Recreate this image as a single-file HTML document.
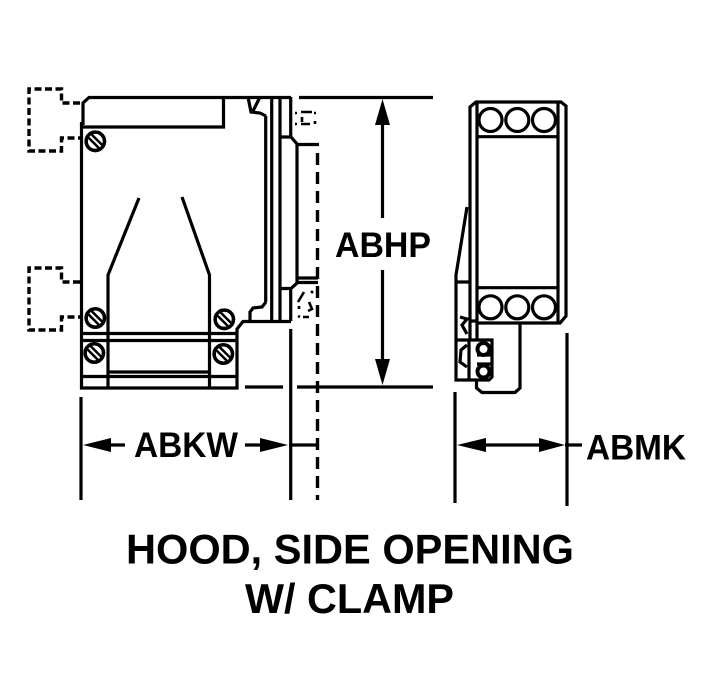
<!DOCTYPE html>
<html><head><meta charset="utf-8"><style>html,body{margin:0;padding:0;background:#fff}svg{display:block}text{font-family:"Liberation Sans",sans-serif;font-weight:bold;fill:#000}</style></head><body>
<svg width="708" height="688" viewBox="0 0 708 688" xmlns="http://www.w3.org/2000/svg">
<defs>
<g id="s"><circle r="9.2" fill="#fff" stroke="#000" stroke-width="3.4"/><line x1="-6.5" y1="-6.5" x2="6.5" y2="6.5" stroke="#000" stroke-width="7"/><line x1="-8" y1="-8" x2="8" y2="8" stroke="#fff" stroke-width="2"/><circle r="9.2" fill="none" stroke="#000" stroke-width="3.4"/></g>
</defs>
<g fill="none" stroke="#000" stroke-width="3.2">
<!-- left body -->
<path d="M81.5 122V388H237V333"/>
<path d="M83 125V103L89 97.5H291"/>
<path d="M82 127H223.5V97"/>
<path d="M81 333.5H237M81 340.5H237M81 376.5H237M108 372H209"/>
<path d="M108 388V275L139 198M209.5 388V275L182 197"/>
<path d="M237 333V329L243 321.5H291"/>
<path d="M265.7 116V302M271.7 97V321M280 97V321M290.7 97V137M290.7 290V321"/>
<path d="M248 97L251 112L260 113L266 116M260 97L253 111"/>
<path d="M266 302L262 307L253 308L250 312V321"/>
<path d="M280 137H291L297 144V283L291 288.5H280"/>
<path d="M297 144.5H319M297 278H318M297 282.5H318"/>
<!-- extents -->
<path d="M299 97.5H433M245 387H283M297 387H433"/>
<path d="M290.7 329V500M81 397V500M455 392V503M567 333V506"/>
<path d="M382.5 125V218M382.5 270V360"/>
<path d="M110 445H125M245 445H262M289 445H318M485 445H540M565 445H582"/>
<!-- right drawing -->
<path d="M470 340V107L476 102H561L566 106V316L560 323H477"/>
<path d="M477 102V340M558 102V323M477 136.7H558M477 287.7H558"/>
<circle cx="490.5" cy="120" r="11.5"/><circle cx="517.3" cy="120" r="11.5"/><circle cx="544" cy="120" r="11.5"/>
<circle cx="490.5" cy="307.3" r="11.5"/><circle cx="517.3" cy="307.3" r="11.5"/><circle cx="544" cy="307.3" r="11.5"/>
<path d="M467 207L456 275V380H489L492 377V340H456M456 282H470M469 340V380"/>
<path d="M470 321H477M477 355H491M477 364H491"/>
<path d="M520 323V388L515 392.5H482L476.5 388V380"/>
<path d="M460 317L467 319L462 325L467 334M467 345L461 350L460 362L467 367"/>
</g>
<circle cx="483.5" cy="349" r="6" fill="#fff" stroke="#000" stroke-width="4"/><circle cx="483.5" cy="371.5" r="6" fill="#fff" stroke="#000" stroke-width="4"/>
<!-- dashed -->
<g fill="none" stroke="#000" stroke-width="3.4" stroke-dasharray="7 3.5">
<path d="M80 103H61.5V89H29V151H61.5V138H80"/>
<path d="M80 282H61.5V268H29V330H61.5V317H80"/>
<path d="M317.5 153V500" stroke-dasharray="12 7"/>
</g>
<g fill="none" stroke="#000" stroke-width="2.6">
<path d="M301 112H312M301 124H310M302 117V122M295 113H297M295 124H297M314 113H316M315 121V124"/>
<path d="M304 292L298 302M311 291L313 293M299 306V309M309 302L312 309L308 311M298 316L300 317M303 317H309" />
</g>
<use href="#s" x="95.3" y="141.3"/><use href="#s" x="95.3" y="318"/><use href="#s" x="94.3" y="353"/><use href="#s" x="224.3" y="319.3"/><use href="#s" x="223.3" y="354"/>
<!-- arrowheads -->
<g fill="#000">
<path d="M382.5 99L375 125H390Z"/><path d="M382.5 385L375 359H390Z"/>
<path d="M83 445L111 438V452Z"/><path d="M288 445L260 438V452Z"/>
<path d="M457 445L486 438V452Z"/><path d="M565 445L539 438V452Z"/>
</g>
<text x="335" y="257" font-size="35" textLength="96" lengthAdjust="spacingAndGlyphs">ABHP</text>
<text x="134" y="457" font-size="35" textLength="104" lengthAdjust="spacingAndGlyphs">ABKW</text>
<text x="586" y="459.5" font-size="35" textLength="100" lengthAdjust="spacingAndGlyphs">ABMK</text>
<text x="126" y="563.5" font-size="42" textLength="448" lengthAdjust="spacingAndGlyphs">HOOD, SIDE OPENING</text>
<text x="245" y="613" font-size="42" textLength="209" lengthAdjust="spacingAndGlyphs">W/ CLAMP</text>
</svg>
</body></html>
